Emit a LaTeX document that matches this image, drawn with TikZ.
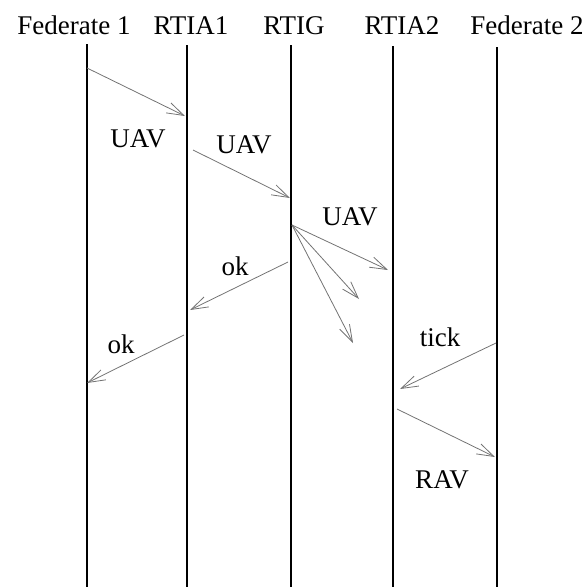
\documentclass[tikz,border=0pt]{standalone}
\usepackage{fontspec}
\setmainfont{Liberation Serif}
\usetikzlibrary{arrows.meta}
\begin{document}
\begin{tikzpicture}[x=1pt,y=-1pt,
  every node/.style={font=\fontsize{27}{31}\selectfont, inner sep=0pt},
  title/.style={anchor=base},
  lbl/.style={anchor=base},
  life/.style={draw=black, line width=1.3pt},
  msg/.style={draw=black!55, line width=0.8pt, -{Straight Barb[length=17pt,width=11pt,line width=0.8pt]}}]
\useasboundingbox (0,0) rectangle (588,587);
% titles
\node[title] (t1) at (74,34) {Federate 1};
\node[title] (t2) at (191,34) {RTIA1};
\node[title] (t3) at (294,34) {RTIG};
\node[title] (t4) at (402,34) {RTIA2};
\node[title] (t5) at (527,34) {Federate 2};
% lifelines
\coordinate (f1top) at (87,44);  \coordinate (f1bot) at (87,587);
\coordinate (a1top) at (187,45); \coordinate (a1bot) at (187,587);
\coordinate (gtop) at (291,45);  \coordinate (gbot) at (291,587);
\coordinate (a2top) at (393,46); \coordinate (a2bot) at (393,587);
\coordinate (f2top) at (497,47); \coordinate (f2bot) at (497,587);
\draw[life] (f1top) -- (f1bot);
\draw[life] (a1top) -- (a1bot);
\draw[life] (gtop) -- (gbot);
\draw[life] (a2top) -- (a2bot);
\draw[life] (f2top) -- (f2bot);
% message end points
\coordinate (m1s) at (87,68);   \coordinate (m1e) at (185,116);
\coordinate (m2s) at (193,150); \coordinate (m2e) at (290,198);
\coordinate (m3s) at (292,225); \coordinate (m3e) at (388,270);
\coordinate (m4e) at (359,299);
\coordinate (m5e) at (353,343);
\coordinate (m6s) at (288,262); \coordinate (m6e) at (190,310);
\coordinate (m7s) at (184,335); \coordinate (m7e) at (87,383);
\coordinate (m8s) at (496,343); \coordinate (m8e) at (400,389);
\coordinate (m9s) at (397,409); \coordinate (m9e) at (495,457);
% messages
\draw[msg] (m1s) -- (m1e);
\draw[msg] (m2s) -- (m2e);
\draw[msg] (m3s) -- (m3e);
\draw[msg] (m3s) -- (m4e);
\draw[msg] (m3s) -- (m5e);
\draw[msg] (m6s) -- (m6e);
\draw[msg] (m7s) -- (m7e);
\draw[msg] (m8s) -- (m8e);
\draw[msg] (m9s) -- (m9e);
% labels
\node[lbl] (l1) at (138,147) {UAV};
\node[lbl] (l2) at (244,153) {UAV};
\node[lbl] (l3) at (350,225) {UAV};
\node[lbl] (l4) at (235,275) {ok};
\node[lbl] (l5) at (121,353) {ok};
\node[lbl] (l6) at (440,346) {tick};
\node[lbl] (l7) at (442,488) {RAV};
\end{tikzpicture}
\end{document}
